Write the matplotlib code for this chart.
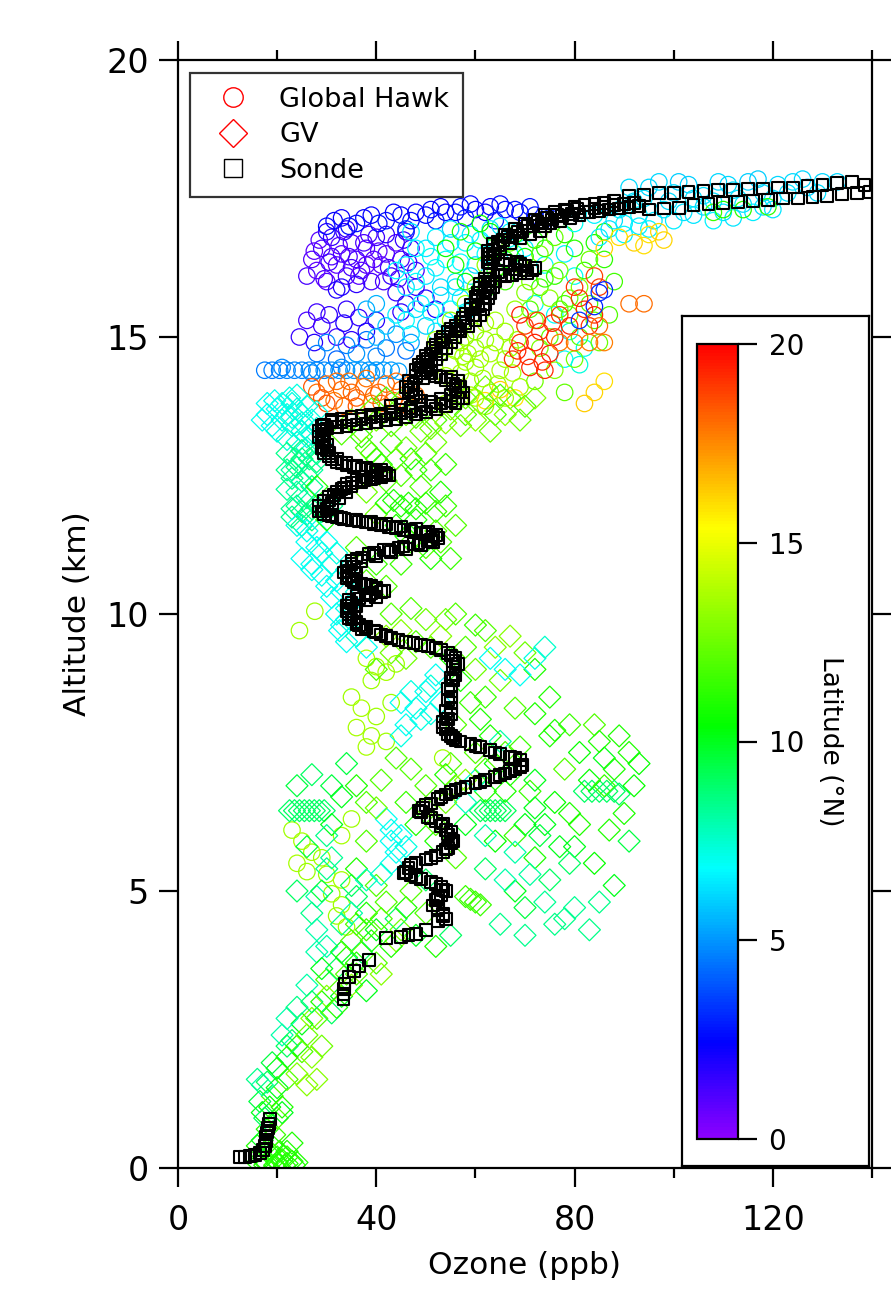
import numpy as np
import matplotlib
matplotlib.use("Agg")
import matplotlib.pyplot as plt
from matplotlib.colors import LinearSegmentedColormap, Normalize
from matplotlib.lines import Line2D
from matplotlib.ticker import MultipleLocator

# Global Hawk: [ozone (ppb), altitude (km), latitude (N)]
gh_points = [
    # violet cluster near 16-17 km
    [27, 16.4, 1.0], [28, 16.2, 0.8], [29, 16.6, 1.2], [30, 16.0, 1.0], [31, 16.8, 1.5], [32, 16.3, 0.8],
    [33, 16.5, 1.0], [34, 16.1, 1.2], [35, 16.7, 1.0], [36, 16.4, 1.3], [37, 16.2, 0.9], [38, 16.6, 1.0],
    [39, 16.0, 1.2], [40, 16.8, 1.4], [41, 16.3, 1.0], [42, 16.5, 1.1], [43, 16.1, 1.5], [44, 16.7, 1.0],
    [45, 16.4, 1.2], [47, 16.6, 1.6], [48, 16.2, 1.4], [30, 16.9, 1.8], [34, 16.95, 1.6], [38, 16.3, 0.9],
    [31, 16.45, 1.1], [35, 16.25, 1.3], [42, 16.85, 1.7], [46, 16.9, 1.9], [26, 16.1, 1.2], [33, 15.9, 1.8],
    [28.5, 16.75, 1.0], [30.5, 16.35, 1.3], [32.5, 16.65, 0.9], [34.5, 16.45, 1.1], [36.5, 16.1, 1.0],
    [38.5, 16.85, 1.2], [40.5, 16.55, 0.9], [42.5, 16.25, 1.3], [44.5, 16.05, 1.1], [46.5, 16.35, 1.4],
    [29.5, 16.05, 1.0], [33.5, 16.9, 1.6], [37.5, 16.7, 1.1], [41.5, 16.0, 1.2], [27.5, 16.55, 0.8],
    [39.5, 16.4, 1.0], [45.5, 16.75, 1.5], [32, 15.85, 1.9], [36, 15.95, 1.7],
    # blue band at the top
    [30, 17.0, 2.5], [33, 17.15, 2.2], [36, 17.05, 2.6], [39, 17.2, 2.4], [42, 17.1, 2.8], [45, 17.2, 2.5],
    [48, 17.25, 2.3], [51, 17.3, 2.6], [54, 17.25, 2.4], [57, 17.35, 2.7], [60, 17.3, 2.5], [63, 17.35, 2.3],
    [66, 17.3, 2.6], [69, 17.25, 2.5], [72, 17.2, 2.8], [75, 17.15, 3.0], [52, 17.1, 2.9], [58, 17.15, 3.1],
    [64, 17.1, 3.0], [46, 16.95, 3.2], [31.5, 17.1, 2.4], [34.5, 17.0, 2.6], [37.5, 17.15, 2.3],
    [40.5, 17.05, 2.7], [43.5, 17.25, 2.4], [47, 17.1, 2.6], [50, 17.2, 2.5], [53, 17.35, 2.4],
    [56, 17.25, 2.6], [59, 17.4, 2.5], [62, 17.25, 2.4], [65, 17.4, 2.6], [68, 17.3, 2.7], [71, 17.35, 2.8],
    # violet / blue middle
    [44, 15.8, 1.6], [46, 15.6, 1.8], [48, 15.9, 1.5], [50, 15.7, 1.9], [52, 15.5, 2.0], [45, 15.45, 1.7],
    [24.5, 15.0, 1.5], [26, 15.3, 1.2], [27.5, 14.9, 1.8], [29, 15.2, 1.4], [30.5, 15.4, 1.6], [32, 15.0, 1.3],
    [33.5, 15.25, 1.9], [35, 14.95, 1.7], [36.5, 15.35, 1.5], [38, 15.1, 2.0], [40, 15.3, 1.8], [28, 15.45, 1.4],
    [34, 15.5, 1.6],
    # light blue
    [28, 14.7, 4.5], [30, 14.9, 4.8], [32, 14.6, 4.2], [34, 14.85, 4.6], [36, 14.7, 5.0], [38, 14.95, 4.4],
    [40, 14.65, 4.8], [42, 14.8, 4.5], [44, 15.05, 4.9], [46, 14.75, 4.3], [47, 14.9, 5.2],
    [40, 15.6, 5.5], [42, 15.2, 5.8], [40, 15.0, 5.6], [38, 15.5, 5.4],
    [17.5, 14.4, 4.6], [19, 14.4, 4.6], [20.5, 14.4, 4.6], [22, 14.4, 4.7], [23.5, 14.4, 4.7], [25, 14.4, 4.7],
    [26.5, 14.4, 4.8], [28, 14.4, 4.8], [29.5, 14.4, 4.8], [31, 14.4, 4.9], [32.5, 14.4, 4.9], [34, 14.4, 4.9],
    [35.5, 14.4, 5.0], [37, 14.4, 5.0], [38.5, 14.4, 5.0], [40, 14.4, 5.1], [41.5, 14.4, 5.1], [43, 14.4, 5.1],
    [44.5, 14.38, 5.2], [21, 14.45, 4.7], [27, 14.35, 4.8], [33, 14.45, 4.9], [39, 14.35, 5.0],
    # orange cluster below
    [28, 14.0, 18.0], [30, 14.15, 18.2], [31.5, 13.85, 17.8], [33, 14.05, 18.1], [34.5, 14.2, 17.9],
    [36, 13.9, 18.3], [37.5, 14.1, 18.0], [39, 13.8, 17.8], [40.5, 14.0, 18.2], [42, 14.15, 18.1],
    [43.5, 13.85, 17.9], [45, 14.05, 18.0], [46.5, 13.75, 18.3], [48, 13.95, 18.1], [36, 13.75, 18.4],
    [30, 13.8, 18.5], [29, 13.9, 18.3], [32, 14.2, 18.0], [35, 14.0, 18.2], [38, 14.25, 17.9],
    [41, 13.8, 18.3], [44, 14.2, 18.0], [47, 14.15, 17.9], [33.5, 13.75, 18.2], [39.5, 13.95, 18.1],
    [27, 14.1, 18.4],
    # cyan
    [46, 16.3, 6.5], [48, 16.6, 6.8], [50, 16.1, 6.3], [52, 16.8, 6.6], [54, 16.4, 6.9], [56, 16.0, 6.4],
    [58, 16.7, 6.7], [60, 16.3, 6.2], [62, 16.5, 6.8], [47, 16.9, 6.5], [55, 16.95, 6.1], [51, 16.45, 7.0],
    [59, 16.85, 6.6], [49, 15.6, 6.5], [51, 15.45, 6.8], [53, 15.75, 6.3], [55, 15.5, 6.9], [57, 15.7, 6.6],
    [50, 15.2, 6.0], [47, 15.05, 6.3], [44, 16.2, 6.6], [46, 15.9, 6.3], [48, 16.0, 6.9], [50, 16.6, 6.4],
    [52, 16.25, 6.7], [53, 15.9, 6.2], [55, 16.7, 6.5], [57, 16.35, 6.8], [59, 16.1, 6.3], [61, 16.75, 6.6],
    [63, 16.95, 6.4], [65, 17.0, 6.5], [67, 16.9, 6.7], [44, 15.4, 6.5], [46, 15.3, 6.8], [48, 15.5, 6.2],
    [52, 15.1, 6.5], [54, 15.3, 6.6], [56, 15.9, 6.4], [58, 15.45, 6.7],
    [68, 16.5, 6.8], [70, 16.6, 6.5], [74, 16.3, 6.9], [78, 16.5, 6.6], [80, 16.1, 7.0], [72, 15.6, 7.0],
    [76, 15.4, 6.8], [79, 15.1, 7.2], [82, 14.8, 7.1], [78, 14.6, 6.9], [81, 14.5, 7.3],
    # green
    [54, 16.6, 10.5], [56, 16.3, 10.8], [58, 16.0, 10.2], [60, 16.55, 10.6], [62, 15.85, 10.9],
    [64, 16.2, 10.4], [65, 16.65, 10.7], [61, 17.05, 10.5], [57, 16.9, 11.0],
    [63, 16.9, 10.5], [66, 16.4, 10.8], [68, 16.85, 11.0], [70, 16.45, 10.6], [72, 16.75, 10.9],
    [74, 16.6, 11.2], [76, 16.1, 11.4], [78, 16.85, 11.0], [82, 16.2, 11.5], [84, 16.7, 11.0],
    [86, 16.4, 11.3], [71, 15.5, 12.0], [73, 15.9, 11.5], [75, 15.0, 12.3], [77, 15.5, 12.1],
    [79, 15.7, 12.4], [81, 15.0, 12.2], [83, 15.6, 11.9], [85, 14.9, 12.5], [73, 14.8, 12.8],
    [80, 14.6, 12.6], [87, 15.4, 12.0], [88, 16.0, 11.7], [86, 16.9, 11.3], [76, 14.4, 13.0],
    [72, 14.2, 12.5], [78, 14.0, 12.3],
    # yellow-green right of the sonde
    [67, 16.7, 12.5], [69, 16.3, 13.0], [71, 16.0, 12.8], [73, 16.5, 12.6], [75, 15.7, 13.2], [77, 16.2, 12.9],
    [79, 15.4, 12.7], [81, 15.9, 13.1], [83, 16.4, 12.5], [68, 15.5, 13.3], [72, 15.3, 12.9], [76, 16.8, 12.4],
    [70, 15.8, 13.0], [74, 16.05, 11.5], [78, 15.6, 11.8], [80, 16.6, 11.2], [66, 16.0, 11.6], [84, 15.3, 12.1],
    [53, 14.8, 13.5], [55, 14.5, 13.3], [57, 14.9, 13.6], [59, 14.2, 13.4], [61, 14.6, 13.5], [63, 14.0, 13.2],
    [65, 14.4, 13.6], [67, 14.8, 13.4], [69, 14.1, 13.5], [56, 14.1, 13.3], [60, 13.9, 13.7], [62, 14.95, 13.4],
    [58, 15.0, 13.2], [54, 14.3, 13.6], [58, 14.55, 13.5], [60, 14.8, 13.4],
    [54, 13.8, 13.5], [55.5, 14.0, 13.4], [57, 14.35, 13.6], [58.5, 14.7, 13.5], [60, 14.45, 13.3],
    [61.5, 14.25, 13.5], [63, 14.7, 13.6], [64.5, 14.15, 13.4], [66, 14.6, 13.5], [67.5, 14.35, 13.6],
    [68.5, 14.95, 13.3], [57.5, 14.65, 13.5], [59, 13.95, 13.6], [62, 13.75, 13.4], [64, 14.9, 13.5],
    [66, 15.1, 13.4], [64, 15.3, 13.5], [62, 15.25, 13.6], [66, 13.9, 13.5], [56, 14.75, 13.5],
    [60, 15.1, 13.2], [52, 14.95, 13.4], [55, 15.3, 13.3], [58, 15.6, 13.4], [60, 15.9, 13.0], [62, 16.3, 13.2],
    # red / orange / yellow
    [67.5, 14.6, 19.2], [69, 14.9, 19.0], [71, 14.45, 19.3], [73, 15.1, 19.1], [75, 14.7, 19.4], [70, 15.2, 19.0],
    [74, 14.4, 19.2], [76, 15.0, 19.3], [80, 15.9, 19.0], [82, 15.5, 19.2], [84, 16.1, 18.8], [83, 15.2, 19.1],
    [68.5, 14.75, 19.3], [70.5, 14.65, 19.1], [72, 14.9, 19.4], [73.5, 14.55, 19.2], [72.5, 15.3, 19.0],
    [75.5, 15.25, 19.2], [77, 15.4, 19.0], [79, 15.2, 19.3], [81, 15.7, 19.1], [85, 15.9, 18.9],
    [84, 15.4, 19.2], [69, 15.4, 19.5],
    [77, 14.9, 17.8], [80, 14.9, 17.9], [83, 14.9, 17.8], [86, 14.9, 17.7], [85, 15.2, 18.0],
    [62, 13.85, 16.0], [65, 14.05, 16.2], [68, 13.9, 15.9], [84, 14.0, 16.1], [86, 14.2, 16.0], [82, 13.8, 16.3],
    [86, 15.85, 3.0], [85, 15.8, 3.2], [81, 15.3, 3.3], [84, 15.55, 3.0], [91, 15.6, 18.0], [94, 15.6, 18.0],
    # upper tail
    [91, 17.7, 6.2], [94, 17.5, 6.3], [97, 17.8, 6.1], [100, 17.6, 6.2], [103, 17.75, 6.0], [106, 17.55, 6.3],
    [109, 17.8, 6.1], [112, 17.65, 6.2], [115, 17.8, 6.0], [118, 17.6, 6.3], [121, 17.75, 6.1], [124, 17.8, 6.2],
    [127, 17.7, 6.0], [130, 17.8, 6.1], [98, 17.3, 6.4], [102, 17.25, 6.3], [106, 17.35, 6.2], [110, 17.25, 6.4],
    [114, 17.4, 6.3], [118, 17.35, 6.2], [93, 17.2, 6.5], [96, 17.1, 6.4], [90, 17.05, 6.6],
    [92, 17.45, 6.3], [95, 17.7, 6.1], [99, 17.45, 6.2], [101, 17.8, 6.0], [104, 17.5, 6.3], [108, 17.45, 6.2],
    [111, 17.75, 6.1], [113, 17.5, 6.3], [117, 17.85, 6.0], [120, 17.5, 6.2], [123, 17.6, 6.3],
    [126, 17.85, 6.1], [129, 17.6, 6.2], [133, 17.8, 6.1], [89, 17.3, 6.4], [100, 17.1, 6.5], [104, 17.2, 6.4],
    [108, 17.1, 6.6], [112, 17.15, 6.4], [116, 17.25, 6.5], [120, 17.3, 6.4], [95, 16.95, 6.7],
    [85, 16.8, 6.5], [88, 17.1, 6.3],
    [84, 17.2, 6.6], [87, 16.95, 6.4], [90, 16.85, 6.7], [93, 17.0, 6.5], [80, 17.05, 7.0],
    [110, 17.3, 11.0], [114, 17.3, 11.2], [108, 17.25, 11.5], [119, 17.35, 11.2],
    [89, 16.8, 16.0], [92, 16.7, 16.2], [95, 16.85, 15.9], [98, 16.75, 16.1], [86, 16.6, 16.2],
    [94, 16.65, 16.0], [97, 16.9, 16.1],
    # lower troposphere
    [27.6, 10.05, 13.5], [24.5, 9.7, 13.5], [38, 9.2, 13.6], [40, 9.05, 13.5], [42, 8.95, 13.6], [44, 9.1, 13.4],
    [39, 8.8, 13.5], [35, 8.5, 13.5], [37, 8.3, 13.6], [40, 8.15, 13.5], [43, 8.4, 13.4], [36, 7.95, 13.6],
    [39, 7.8, 13.5], [42, 7.7, 13.5], [38, 7.6, 13.6], [53.4, 7.4, 13.5],
    [23, 6.1, 13.5], [25, 5.9, 13.6], [27, 5.7, 13.5], [29, 5.6, 13.5], [24, 5.5, 13.6], [26, 5.35, 13.4],
    [30, 5.3, 13.5], [33, 5.2, 13.6], [31, 4.95, 13.5], [33, 4.75, 13.5], [32, 4.55, 13.4], [34, 4.35, 13.5],
    [35, 6.3, 13.5], [33, 6.0, 13.6],
]

# GV: [ozone (ppb), altitude (km), latitude (N)]
gv_points = [
    [16, 0.1, 11], [17, 0.15, 11], [18, 0.08, 11], [19, 0.2, 11], [20, 0.1, 11], [21, 0.15, 11], [22, 0.08, 11],
    [23, 0.12, 11], [24, 0.1, 11], [18.5, 0.3, 11], [20.5, 0.3, 11], [17.5, 0.05, 11], [19.5, 0.05, 11],
    [21.5, 0.05, 11], [23.5, 0.05, 11], [20, 0.2, 11.2], [22, 0.2, 11.2],
    [16, 0.4, 11], [19, 0.4, 11], [22, 0.3, 11], [23, 0.45, 11],
    [17, 0.5, 10], [18, 0.7, 11], [17.5, 0.9, 9], [18.5, 1.1, 10.5], [19, 1.3, 12], [17, 1.5, 8],
    [16.5, 1.2, 9.5], [19.5, 0.6, 11.5], [20, 0.9, 12], [21, 1.1, 11], [16, 1.6, 8.5], [18, 1.55, 9],
    [20, 1.45, 10], [21, 1.0, 10], [22, 1.6, 12], [17, 1.0, 10], [19, 1.9, 9.5],
    [20, 1.8, 10], [22, 2.0, 11], [24, 1.7, 13], [26, 1.5, 13], [23, 2.3, 9], [25, 2.1, 12], [21, 2.4, 8],
    [27, 2.0, 13], [28, 1.6, 13], [29, 2.2, 12.5], [25, 2.6, 10], [22, 2.7, 8], [24, 2.2, 11], [26, 2.4, 12.5],
    [22, 2.2, 9],
    [27, 2.7, 13], [29, 3.0, 11], [31, 2.8, 9], [26, 3.3, 8], [30, 3.4, 12], [33, 3.1, 10], [35, 3.3, 13],
    [32, 3.6, 9], [28, 3.9, 8], [34, 3.8, 11], [36, 3.5, 12], [38, 3.2, 10], [37, 3.9, 9], [40, 3.7, 12],
    [39, 4.1, 11], [41, 3.5, 13], [30, 4.0, 8], [28, 2.7, 12], [30, 3.1, 13], [32, 2.9, 11], [34, 3.5, 12],
    [36, 3.7, 11], [33, 3.9, 10], [29, 3.6, 10], [27, 3.0, 9], [24, 2.9, 8.5],
    [36, 4.4, 12], [38, 4.6, 11], [40, 4.3, 10], [42, 4.8, 12], [44, 4.5, 9], [46, 4.7, 11], [48, 4.2, 10],
    [50, 4.6, 12], [52, 4.0, 11], [44, 4.1, 13], [36, 4.9, 9], [47, 5.0, 12], [35, 4.1, 12], [38, 4.3, 11.5],
    [41, 4.5, 12], [43, 4.0, 11], [45, 4.3, 12.5],
    [55, 4.2, 9], [58, 4.9, 11.5], [60, 4.8, 11.5], [61, 4.75, 11.5], [59, 4.85, 11.5], [62, 5.4, 9],
    [65, 4.4, 8.5], [68, 5.0, 10], [70, 4.7, 9.5], [72, 5.6, 11], [75, 5.2, 9], [78, 4.5, 8.5], [80, 5.8, 10],
    [83, 4.3, 8.5], [84, 5.5, 10.5], [88, 5.1, 10], [87, 6.1, 11], [91, 5.9, 9.5], [64, 5.9, 10.5],
    [68, 6.0, 11.5], [74, 6.2, 10], [56, 5.6, 12], [58, 6.2, 10], [52, 5.9, 11], [50, 5.2, 9],
    [22.5, 6.45, 9], [23.5, 6.45, 9], [24.5, 6.45, 9], [25.5, 6.45, 9], [26.5, 6.45, 9], [27.5, 6.45, 9],
    [28.5, 6.45, 9], [29.5, 6.45, 9],
    [61, 6.45, 9.2], [62, 6.45, 9.2], [63, 6.45, 9.2], [64, 6.45, 9.2], [65, 6.45, 9.2], [66, 6.45, 9.2],
    [82, 6.8, 9.0], [83.5, 6.8, 9.0], [85, 6.8, 9.0], [86.5, 6.8, 9.0], [88, 6.8, 9.0], [89, 6.75, 9.0],
    [42, 6.3, 7], [43, 6.1, 7], [43, 5.9, 7], [44, 5.7, 7], [43, 5.5, 7], [45, 6.0, 7],
    [24, 6.9, 9.5], [27, 7.1, 9], [31, 6.9, 9.5], [34, 7.3, 9.5], [26, 5.8, 9.5], [30, 5.4, 8.5], [35, 5.1, 9],
    [33, 6.7, 10], [38, 6.6, 12], [38, 5.9, 12], [36, 5.4, 11], [40, 5.1, 12], [28, 4.9, 8], [33, 4.4, 8.5],
    [24, 5.0, 9], [27, 4.6, 8.5], [29, 5.0, 9.5], [31, 6.2, 10], [36, 6.9, 11], [40, 6.5, 12.5], [41, 7.0, 12],
    [44, 7.4, 12], [46, 6.6, 11.5], [48, 6.2, 11], [50, 6.5, 12.5], [52, 6.2, 12], [54, 7.1, 11],
    [56, 6.9, 12.5], [60, 7.5, 12], [62, 6.8, 11], [64, 7.3, 10.5], [66, 7.5, 12], [67, 7.1, 11],
    [70, 6.2, 10], [71, 6.8, 11.5], [73, 6.0, 9.5], [76, 6.6, 10.5], [77, 5.8, 10], [79, 5.5, 9],
    [81, 6.2, 11], [83, 7.0, 10.5], [86, 7.4, 10], [90, 6.4, 11], [92, 6.9, 10.5], [89, 7.8, 11],
    [84, 8.0, 12], [79, 8.0, 11.5], [75, 8.5, 11], [68, 8.3, 12], [65, 8.8, 12.5], [62, 8.5, 11.5],
    [58, 9.4, 12], [54, 9.9, 12.5], [51, 9.4, 12], [46, 9.2, 12.5], [42, 9.6, 13], [56, 10.0, 12],
    [60, 9.8, 11.5], [47, 10.1, 12],
    [45, 8.4, 7], [49, 8.1, 7.2], [53, 8.4, 7], [45, 7.8, 7.2], [51, 8.7, 7.4], [60, 7.0, 7.5], [65, 7.7, 8],
    [58, 6.6, 7.8], [62, 6.0, 8], [68, 5.7, 8], [71, 5.3, 8.2], [74, 4.8, 8.3], [76, 4.4, 8.5], [80, 4.7, 8.3],
    [85, 4.8, 8.5], [70, 4.2, 8.4], [66, 5.2, 8], [46, 5.8, 7.2], [41, 5.3, 7.5], [38, 5.2, 7.8],
    [30, 6.0, 8.5], [31, 5.6, 8.3], [35, 4.6, 8], [28, 4.3, 8],
    [58, 7.0, 13], [62, 7.2, 12], [66, 6.8, 11], [69, 7.6, 11.5], [72, 7.0, 10], [75, 7.8, 11], [78, 7.2, 12],
    [81, 7.5, 10.5], [85, 7.7, 11], [88, 7.2, 11], [91, 7.5, 11], [93, 7.3, 10.5], [86, 6.9, 11.5],
    [79, 6.4, 11], [72, 6.5, 10], [54, 6.6, 12.5], [50, 6.9, 12], [47, 7.2, 12],
    [46, 8.0, 7], [48, 8.3, 7], [50, 8.6, 7], [52, 8.9, 7], [47, 8.6, 7.2], [51, 8.2, 7.2],
    [40, 9.0, 12], [43, 9.3, 12.5], [45, 9.7, 13], [48, 9.5, 12], [50, 9.9, 12.5], [53, 9.6, 13],
    [55, 9.2, 11], [57, 8.8, 11], [59, 8.4, 11.5], [61, 8.1, 11], [63, 7.8, 11], [56, 8.0, 12],
    [60, 9.0, 12.5], [64, 9.4, 13], [67, 9.6, 13], [70, 9.3, 12.5], [72, 9.0, 11], [62, 9.7, 12],
    [63, 9.2, 7], [66, 9.0, 7], [69, 8.9, 7], [72, 9.2, 7.2], [74, 9.4, 7.5],
    [32.6, 9.7, 7], [34, 9.5, 7], [36, 9.6, 7.5], [38, 9.4, 7],
    [72, 8.2, 11], [76, 7.9, 11], [55, 7.3, 12],
    # upper troposphere
    [23, 13.8, 7.2], [24, 13.7, 7.2], [25, 13.6, 7.2], [26, 13.75, 7.2], [27, 13.5, 7.2], [28, 13.65, 7.2],
    [23, 13.4, 7.3], [25, 13.3, 7.3], [27, 13.25, 7.2], [22, 13.6, 7.2], [20, 13.7, 7.0], [18, 13.6, 7.0],
    [17, 13.5, 7.0], [19, 13.4, 7.0], [18, 13.8, 7.0], [19.5, 13.85, 7.1], [21, 13.8, 7.1], [22.5, 13.9, 7.2],
    [24, 13.95, 7.2], [21, 13.5, 7.2], [23, 13.55, 7.2], [25, 13.45, 7.3], [26, 13.2, 7.3], [28, 13.35, 7.2],
    [24, 13.1, 7.3], [26, 13.0, 7.5], [29, 13.05, 7.5], [22, 13.15, 7.4], [20, 13.3, 7.2],
    [22, 12.9, 8.5], [23.5, 12.8, 8.5], [25, 12.95, 8.5], [26.5, 12.8, 8.5], [28, 12.9, 8.5], [23, 12.6, 8.2],
    [25, 12.4, 8.2], [27, 12.6, 8.2], [24, 12.2, 8.0], [26, 12.1, 8.0], [23, 11.9, 8.4], [25, 11.85, 8.6],
    [27, 11.9, 8.6], [29, 11.85, 8.6], [31, 11.95, 8.5], [22, 12.6, 8.5], [23, 12.45, 8.5], [24, 12.65, 8.5],
    [25, 12.8, 8.6], [26, 12.5, 8.5], [27, 12.3, 8.4], [28, 12.75, 8.6], [22, 12.25, 8.3], [24, 11.95, 8.5],
    [26, 11.8, 8.6], [28, 11.95, 8.6], [30, 11.85, 8.5], [23, 11.75, 8.4], [25, 11.6, 8.3], [27, 11.7, 8.4],
    [24, 11.6, 7.2], [26, 11.3, 7.0], [28, 11.5, 7.0], [25, 11.0, 7.0], [29, 11.1, 7.2], [27, 10.8, 7.0],
    [31, 10.9, 7.1], [30, 10.5, 7.0], [33, 10.4, 7.0], [35, 10.2, 7.0], [32, 10.0, 7.0], [34, 9.9, 7.2],
    [26, 11.5, 7.1], [28, 11.2, 7.1], [30, 11.3, 7.0], [32, 11.1, 7.2], [27, 10.9, 7.0], [29, 10.7, 7.1],
    [32, 10.6, 7.0], [34, 10.8, 7.2], [31, 10.3, 7.0], [34, 10.1, 7.1], [36, 10.4, 7.2], [33, 9.8, 7.0],
    [28, 12.3, 11], [30, 11.7, 11],
    [37, 13.2, 11.5], [39, 12.9, 12], [41, 12.7, 11], [43, 13.1, 11.5], [45, 12.5, 12], [47, 12.8, 11],
    [49, 12.3, 12], [51, 12.6, 11.5], [53, 12.2, 11], [42, 12.4, 12], [46, 11.4, 11], [50, 11.2, 12],
    [55, 11.0, 11.5], [48, 11.7, 11], [52, 11.5, 12],
    [38, 13.0, 12], [40, 12.8, 11.5], [44, 12.8, 12], [46, 13.0, 12.5], [48, 12.6, 11.5], [50, 12.9, 12],
    [52, 13.1, 12.5], [54, 12.7, 11.5], [44, 11.6, 11], [47, 11.3, 11.5], [51, 11.0, 11], [53, 11.3, 12],
    [56, 11.6, 12], [40, 11.8, 12.5], [38, 12.2, 12.5], [36, 11.2, 12], [38, 10.6, 12], [40, 10.9, 11.5],
    [42, 10.5, 12], [45, 10.9, 11.5], [43, 10.0, 12],
    [42, 12.0, 11], [43.5, 12.05, 11], [45, 11.95, 11], [46.5, 12.0, 11], [48, 11.9, 11], [50, 12.0, 11.2],
    [52, 11.85, 11.5], [54, 11.95, 11.5],
    [37, 13.3, 12.5], [40, 13.5, 12.5], [43, 13.4, 12.5], [46, 13.6, 12.5], [49, 13.3, 12.5], [52, 13.5, 12],
    [55, 13.7, 12.5], [58, 13.6, 12], [61, 13.8, 12.5], [64, 13.6, 12], [67, 13.9, 12.5], [70, 13.75, 12],
    [39, 13.7, 12.5], [42, 13.9, 12], [45, 13.85, 12.5], [48, 13.55, 12], [51, 13.35, 12.5], [54, 13.45, 13],
    [57, 13.4, 12.5], [60, 13.5, 13], [63, 13.3, 12.5], [66, 13.6, 13], [69, 13.5, 12.5], [72, 13.9, 13],
    [62, 14.1, 12.5], [65, 13.95, 12], [58, 13.9, 12.5], [35, 13.5, 12.5], [33, 13.25, 12],
]

# Sonde: [ozone (ppb), altitude (km)]
sonde_points = [
    [12.5, 0.2], [13.5, 0.2], [14.5, 0.22], [15.5, 0.24], [16.5, 0.27], [17.2, 0.32], [17.5, 0.4], [17.7, 0.48],
    [17.8, 0.56], [18.0, 0.64], [18.2, 0.72], [18.4, 0.8], [18.5, 0.88],
    [33.4, 3.05], [33.4, 3.14], [33.5, 3.23], [33.6, 3.32], [34.5, 3.45], [35.5, 3.55], [36.5, 3.65], [38.6, 3.76],
    [42, 4.15], [45, 4.17], [46.5, 4.2], [48, 4.23], [50, 4.3],
    [52.5, 4.45], [54, 4.5], [53.5, 4.58], [52.5, 4.66], [51.5, 4.74], [52, 4.84], [53, 4.92], [54, 5.0],
    [53, 5.08], [51, 5.16], [49, 5.22], [47, 5.28], [46, 5.35], [46.5, 5.42], [48, 5.5], [50, 5.57], [52, 5.64],
    [53.5, 5.71], [54.5, 5.78], [55, 5.86], [55, 5.94], [54.5, 6.02], [54, 6.1], [53, 6.18], [52, 6.26],
    [50.5, 6.34], [49, 6.42], [49.5, 6.5], [51, 6.58], [52.5, 6.66], [54, 6.74], [56, 6.82], [58, 6.88],
    [60, 6.94], [62, 7.0], [64, 7.06], [66, 7.12], [68, 7.2], [69.5, 7.28], [69, 7.36], [67, 7.42], [65, 7.48],
    [63, 7.54], [61, 7.6], [59, 7.65], [57, 7.7], [55.5, 7.76], [54.5, 7.84], [54, 7.92], [54, 8.0],
    [54.5, 8.1], [55, 8.2], [55, 8.3], [55, 8.4], [55, 8.5], [55, 8.6], [55, 8.7], [55.5, 8.8], [56, 8.9],
    [56, 9.0], [56.5, 9.1], [56, 9.2], [54.5, 9.3], [52, 9.38], [49, 9.44], [46, 9.5], [43, 9.56], [41, 9.63],
    [39.5, 9.7], [38, 9.77], [36, 9.85], [35.5, 9.95], [35.5, 10.05], [36, 10.15], [38, 10.25], [40, 10.3],
    [41, 10.4], [39, 10.5], [37, 10.55], [35, 10.62], [36, 10.72], [35.5, 10.85], [37, 10.95], [40, 11.05],
    [43, 11.12], [46, 11.18], [49, 11.24], [51.5, 11.3], [52.5, 11.37], [50, 11.44], [47, 11.5], [44, 11.55],
    [41, 11.6], [38, 11.65], [35, 11.7], [32, 11.75], [29.5, 11.8], [30, 11.9], [31, 12.0], [32.5, 12.1],
    [34, 12.2], [35, 12.3], [37, 12.38], [39, 12.43], [41, 12.47], [42, 12.52], [40, 12.57], [37, 12.62],
    [34, 12.68], [32, 12.75], [30.5, 12.85], [30, 12.95], [30, 13.05], [29.5, 13.15], [29.5, 13.25],
    [30, 13.35], [32, 13.38], [34, 13.4], [36, 13.42], [38, 13.44], [40, 13.47], [42, 13.5], [44, 13.52],
    [46, 13.55], [48, 13.6], [50, 13.65], [52, 13.7], [54, 13.75], [56, 13.8], [57.5, 13.9], [57.5, 14.0],
    [57, 14.1], [56.5, 14.2], [55, 14.28], [52, 14.3], [49.5, 14.25], [47.5, 14.15], [47, 14.05], [47.5, 13.95],
    [49, 13.85], [43, 13.75], [45, 13.78], [48, 14.4], [50, 14.4], [51, 14.5], [52, 14.6], [53, 14.7],
    [54, 14.8], [55, 14.9], [56, 15.0], [57, 15.1], [58.5, 15.2], [60, 15.3], [61, 15.4], [61.5, 15.5],
    [62, 15.6], [62.5, 15.7], [63, 15.8], [63.5, 15.9], [64, 16.0], [66, 16.1], [69, 16.15], [71.5, 16.2],
    [70, 16.28], [67, 16.3], [64.5, 16.4], [64, 16.5], [65, 16.6], [67, 16.7], [69, 16.78], [71, 16.85],
    [73, 16.92], [74, 17.0], [75, 17.05], [77, 17.1], [79, 17.15], [81, 17.2], [83, 17.25], [85, 17.28],
    [87, 17.3], [89, 17.32], [91, 17.35], [93, 17.37],
    [48.5, 14.5], [50, 14.65], [51.5, 14.8], [53, 14.95], [54.5, 15.1], [56, 15.2], [57.5, 15.35], [59, 15.5],
    [60, 15.65], [60.5, 15.8], [61, 15.95], [62, 16.05], [63, 16.2], [62.5, 16.35], [63, 16.5], [64.5, 16.65],
    [66.5, 16.8], [68.5, 16.9], [70.5, 17.0], [72.5, 17.08], [74.5, 17.15], [76.5, 17.2], [78.5, 17.27],
    [80.5, 17.32],
    [91, 17.55], [94, 17.57], [97, 17.6], [100, 17.6], [103, 17.62], [106, 17.63], [109, 17.65], [112, 17.65],
    [115, 17.67], [118, 17.68], [121, 17.7], [124, 17.7], [127, 17.72], [130, 17.75], [133, 17.78],
    [136, 17.8], [138.5, 17.75],
    [95, 17.3], [98, 17.32], [101, 17.33], [104, 17.38], [107, 17.4], [110, 17.42], [113, 17.43], [116, 17.45],
    [119, 17.48], [122, 17.5], [125, 17.5], [128, 17.52], [131, 17.55], [134, 17.58], [137, 17.6],
    [139.5, 17.62],
    # second pass of the profile
    [53.5, 4.55], [52.5, 4.7], [52.5, 4.88], [53.5, 5.02], [52, 5.12], [48, 5.25], [45.5, 5.32], [47, 5.48],
    [51, 5.6], [54, 5.75], [55.5, 5.9], [55, 6.06], [53.5, 6.22], [51, 6.32], [48.5, 6.45], [50, 6.55],
    [53, 6.7], [55, 6.78], [57, 6.85], [61, 6.97], [65, 7.09], [67, 7.16], [69, 7.24], [68, 7.4], [64, 7.5],
    [60, 7.62], [56, 7.73], [55, 7.8], [53.5, 7.95], [53.5, 8.05], [54, 8.25], [54.5, 8.45], [54.5, 8.65],
    [55, 8.85], [55.5, 9.05], [55.5, 9.15], [55, 9.25], [53, 9.35], [50.5, 9.42], [47.5, 9.48], [44.5, 9.53],
    [42, 9.6], [40, 9.67],
    [37, 9.72], [36.5, 9.8], [35, 9.9], [34.5, 10.0], [34.5, 10.1], [35, 10.2], [36.5, 10.28], [38.5, 10.35],
    [40, 10.45], [38, 10.52], [36, 10.6], [34.5, 10.68], [34.5, 10.78], [35, 10.9], [36, 11.0], [38.5, 11.08],
    [41.5, 11.15], [44.5, 11.2], [47.5, 11.26], [50.5, 11.32], [51.5, 11.4], [49, 11.47], [45.5, 11.52],
    [42.5, 11.57], [39.5, 11.62], [36.5, 11.67], [33.5, 11.72], [31, 11.77], [29, 11.85], [29.5, 11.95],
    [30.5, 12.05], [31.5, 12.15], [33, 12.25], [34, 12.35], [36, 12.42], [38, 12.48], [40, 12.5],
    [41.5, 12.55], [39, 12.6], [35.5, 12.65], [33, 12.72], [31, 12.8], [29.5, 12.9], [29, 13.0], [29, 13.1],
    [28.5, 13.2], [28.5, 13.3], [29, 13.4], [31, 13.5], [33, 13.52], [35, 13.55], [37, 13.57], [39, 13.6],
    [41, 13.62], [43, 13.65], [45, 13.68], [47, 13.72], [49, 13.77], [51, 13.82], [53, 13.88], [55, 13.95],
    [56, 14.05], [55.5, 14.15], [54, 14.22], [50.5, 14.35], [49, 14.45], [50, 14.55], [51, 14.7], [52, 14.85],
    [53.5, 15.0], [55, 15.15], [57, 15.28], [58, 15.42], [59, 15.58], [60, 15.72], [61, 15.88], [62, 16.0],
    [63, 16.12], [64.5, 16.18], [68, 16.22], [70, 16.2], [68.5, 16.35], [66, 16.38], [63.5, 16.45],
    [63.5, 16.58], [64.5, 16.72], [66, 16.85], [68, 16.95], [70, 17.05], [72, 17.12], [74, 17.2], [76, 17.25],
    [78, 17.3], [80, 17.35], [82, 17.38], [84, 17.4], [86, 17.42], [88, 17.45],
    # third pass of the profile
    [38, 9.74], [36, 9.82], [34.5, 9.92], [34, 10.05], [34, 10.15], [34.5, 10.25], [36, 10.32], [39, 10.38],
    [41.5, 10.42], [40, 10.48], [37.5, 10.52], [35.5, 10.58], [34, 10.65], [33.5, 10.75], [34, 10.85],
    [35, 10.95], [37, 11.02], [39.5, 11.1], [42.5, 11.16], [45.5, 11.22], [48.5, 11.28], [51, 11.34],
    [52, 11.42], [50.5, 11.48], [48, 11.53], [45, 11.58], [42, 11.62], [39, 11.66], [36, 11.7], [33, 11.73],
    [30.5, 11.78], [28.5, 11.85], [28.5, 11.95], [29.5, 12.05], [30.5, 12.12], [32, 12.2], [33.5, 12.28],
    [35, 12.36], [37.5, 12.42], [39.5, 12.46], [41, 12.5], [42.5, 12.5], [41, 12.6], [38, 12.63], [36, 12.68],
    [34, 12.73], [32, 12.8], [30.5, 12.9], [29.5, 13.02], [29, 13.12], [29, 13.22], [29, 13.32], [29.5, 13.42],
    [31, 13.46], [33, 13.47], [35, 13.5], [37, 13.52], [39, 13.55], [41, 13.57], [43, 13.6], [45, 13.62],
    [47, 13.66], [49, 13.7], [51, 13.75], [53, 13.8], [55, 13.85], [56.5, 13.9], [57, 14.0], [56, 14.12],
    [53, 14.28], [51, 14.35], [49, 14.35], [48, 14.3], [46.5, 14.2], [46, 14.1], [46.5, 14.0], [48, 13.92],
    [49.5, 14.55], [50.5, 14.6], [52, 14.75], [53.5, 14.9], [55, 15.05], [56.5, 15.15], [58, 15.25],
    [59.5, 15.4], [60.5, 15.55], [61.5, 15.7], [62, 15.85], [62.5, 15.95], [63, 16.05], [65, 16.12],
    [67.5, 16.12], [70.5, 16.15], [72, 16.25], [69, 16.32], [65.5, 16.32], [63, 16.42], [62.5, 16.55],
    [63.5, 16.68], [65.5, 16.75], [67.5, 16.82], [69.5, 16.92], [71.5, 17.0], [73.5, 17.05], [75.5, 17.12],
    [77.5, 17.18], [79.5, 17.22], [82, 17.25], [84, 17.32], [86, 17.35], [88, 17.38], [90, 17.4], [92, 17.42],
]

x_ticks = [0, 40, 80, 120]
y_ticks = [0, 5, 10, 15, 20]
lat_ticks = [0, 5, 10, 15, 20]
legend_labels = ["Global Hawk", "GV", "Sonde"]

plt.rcParams["font.family"] = ["DejaVu Sans"]

cmap = LinearSegmentedColormap.from_list(
    "lat_rainbow",
    [(0.0, (0.55, 0.0, 1.0)), (0.12, (0.0, 0.0, 1.0)), (0.34, (0.0, 1.0, 1.0)),
     (0.52, (0.0, 1.0, 0.0)), (0.77, (1.0, 1.0, 0.0)), (1.0, (1.0, 0.0, 0.0))])
norm = Normalize(0, 20)

gh = np.array(gh_points)
gv = np.array(gv_points)
sonde = np.array(sonde_points)

W, H = 896, 1292
fig = plt.figure(figsize=(W / 100, H / 100), dpi=100)
ax = fig.add_axes([178 / W, 1 - 1168 / H, (872 - 178) / W, (1168 - 60) / H])

ax.scatter(gh[:, 0], gh[:, 1], s=140, marker="o", facecolors="none",
           edgecolors=cmap(norm(gh[:, 2])), linewidths=0.9)
ax.scatter(gv[:, 0], gv[:, 1], s=125, marker="D", facecolors="none",
           edgecolors=cmap(norm(gv[:, 2])), linewidths=0.9)
ax.scatter(sonde[:, 0], sonde[:, 1], s=72, marker="s", facecolors="none",
           edgecolors="black", linewidths=1.5)

ax.set_xlim(0, 140)
ax.set_ylim(0, 20)
ax.set_xticks(x_ticks)
ax.set_yticks(y_ticks)
ax.xaxis.set_minor_locator(MultipleLocator(20))
for sp in ax.spines.values():
    sp.set_linewidth(1.6)
ax.tick_params(which="both", direction="out", top=True, right=True, width=1.6, labelsize=24)
ax.tick_params(which="major", length=14)
ax.tick_params(which="minor", length=7)
ax.tick_params(axis="x", pad=12)
ax.tick_params(axis="y", pad=7)
ax.set_xlabel("Ozone (ppb)", fontsize=22.5, labelpad=10)
ax.set_ylabel("Altitude (km)", fontsize=22.5, labelpad=10)

handles = [
    Line2D([], [], ls="none", marker="o", ms=14, mfc="none", mec="red", mew=1.0),
    Line2D([], [], ls="none", marker="D", ms=14, mfc="none", mec="red", mew=1.0),
    Line2D([], [], ls="none", marker="s", ms=13, mfc="none", mec="black", mew=1.0),
]
leg = ax.legend(handles, legend_labels, loc="upper left", bbox_to_anchor=(12 / 694, 1 - 13 / 1108),
                fontsize=19.5, frameon=True, fancybox=False, handlelength=2.2, handletextpad=0.6,
                borderpad=0.5, labelspacing=0.35, borderaxespad=0)
leg.get_frame().set_edgecolor("black")
leg.get_frame().set_linewidth(1.6)

# colour bar in a framed box
box = fig.add_axes([682 / W, 1 - 1166 / H, (869 - 682) / W, (1166 - 316) / H])
box.set_xticks([])
box.set_yticks([])
for sp in box.spines.values():
    sp.set_linewidth(1.6)

cax = fig.add_axes([697 / W, 1 - 1139 / H, (738 - 697) / W, (1139 - 344) / H])
sm = plt.cm.ScalarMappable(norm=norm, cmap=cmap)
cb = fig.colorbar(sm, cax=cax, ticks=lat_ticks)
cb.outline.set_linewidth(1.6)
cb.ax.tick_params(direction="out", length=14, width=1.6, labelsize=20, pad=8)
cb.set_label("Latitude (°N)", fontsize=19, rotation=270, labelpad=28)

fig.savefig("out.png", dpi=100)
